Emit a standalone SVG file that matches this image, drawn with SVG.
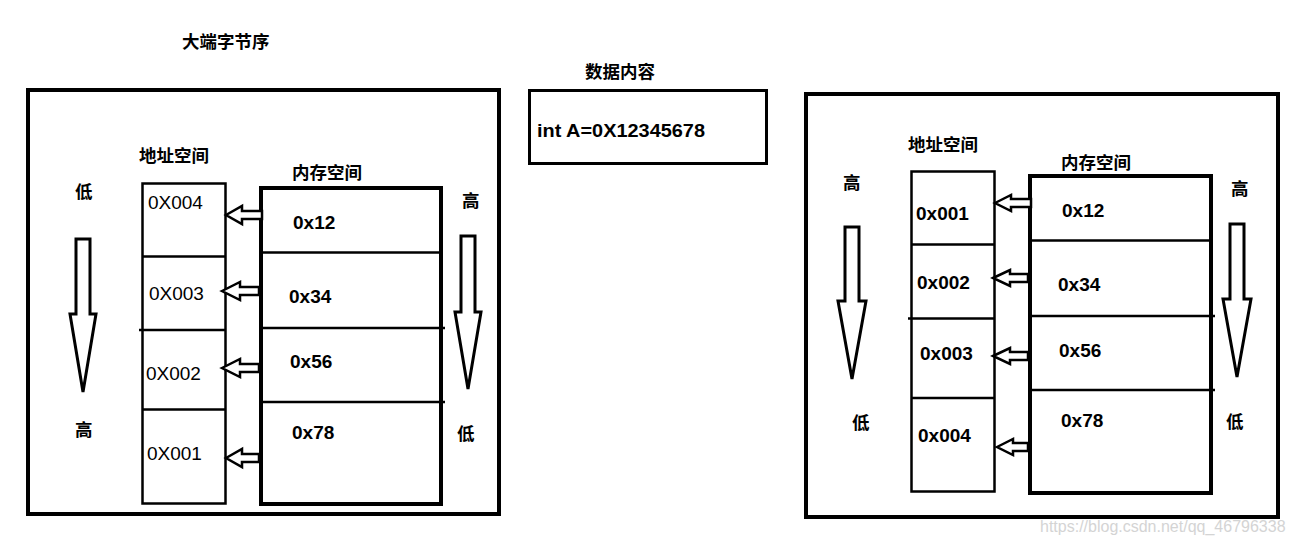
<svg xmlns="http://www.w3.org/2000/svg" width="1292" height="542" viewBox="0 0 1292 542">
<style>
.frame{fill:none;stroke:#000;stroke-width:4}
.box{fill:none;stroke:#000;stroke-width:2.5}
.mem{fill:none;stroke:#000;stroke-width:4}
.div{stroke:#000;stroke-width:2.5}
.harrow{fill:#fff;stroke:#000;stroke-width:2.5;stroke-linejoin:miter}
.big{fill:#fff;stroke:#000;stroke-width:3}
.cjk{font-family:"Noto Sans CJK SC","Noto Sans",sans-serif;font-weight:bold;font-size:17.5px;fill:#000}
.hexb{font-family:"Liberation Sans",Arial,sans-serif;font-weight:bold;font-size:19px;fill:#000}
.hexr{font-family:"Liberation Sans",Arial,sans-serif;font-size:19px;fill:#000}
.wm{font-family:"Liberation Sans",Arial,sans-serif;font-size:16px;fill:#d4d4d4}
</style>
<rect width="1292" height="542" fill="#fff"/>

<!-- Titles -->
<g id="title-big-endian"><text class="cjk" x="182" y="48">大端字节序</text></g>
<g id="title-data"><text class="cjk" x="585" y="78">数据内容</text></g>

<!-- Middle data box -->
<g id="data-box">
<rect x="529.5" y="90.5" width="237" height="73" fill="none" stroke="#000" stroke-width="3"/>
<text class="hexb" x="537" y="137" textLength="168" lengthAdjust="spacingAndGlyphs">int A=0X12345678</text>
</g>

<!-- Left panel -->
<g id="left-panel">
<rect class="frame" x="28" y="90" width="471" height="424"/>
<text class="cjk" x="139" y="162">地址空间</text>
<text class="cjk" x="292" y="179">内存空间</text>
<text class="cjk" x="75" y="198">低</text>
<text class="cjk" x="75" y="436">高</text>
<text class="cjk" x="462" y="207">高</text>
<text class="cjk" x="457" y="440">低</text>
</g>
<g id="left-order-arrow"><polygon class="big" points="76,239 90,239 90,314 96,314 83,392 70,314 76,314"/></g>
<g id="right-order-arrow-l"><polygon class="big" points="461,236 475,236 475,312 481,312 468,389 455,312 461,312"/></g>

<g id="left-address">
<rect class="box" x="142.5" y="183.5" width="83" height="320"/>
<line class="div" x1="142" y1="256.5" x2="226" y2="256.5"/>
<line class="div" x1="139" y1="330" x2="226" y2="330"/>
<line class="div" x1="142" y1="409.5" x2="226" y2="409.5"/>
<text class="hexr" x="148" y="209">0X004</text>
<text class="hexr" x="149" y="300">0X003</text>
<text class="hexr" x="146" y="380">0X002</text>
<text class="hexr" x="147" y="460">0X001</text>
</g>

<g id="left-memory">
<rect class="mem" x="261" y="188" width="180" height="316"/>
<line class="div" x1="261" y1="252.5" x2="441" y2="252.5"/>
<line class="div" x1="261" y1="328" x2="445" y2="328"/>
<line class="div" x1="261" y1="402" x2="445" y2="402"/>
<text class="hexb" x="293" y="229">0x12</text>
<text class="hexb" x="289" y="303">0x34</text>
<text class="hexb" x="290" y="368">0x56</text>
<text class="hexb" x="292" y="439">0x78</text>
</g>

<!-- Right panel -->
<g id="right-panel">
<rect class="frame" x="806" y="94" width="472" height="423"/>
<text class="cjk" x="908" y="151">地址空间</text>
<text class="cjk" x="1061" y="169">内存空间</text>
<text class="cjk" x="843" y="189">高</text>
<text class="cjk" x="852" y="429">低</text>
<text class="cjk" x="1231" y="195">高</text>
<text class="cjk" x="1226" y="428">低</text>
</g>
<g id="right-order-arrow-1"><polygon class="big" points="845,227 859,227 859,301 866,301 852,379 838,301 845,301"/></g>
<g id="right-order-arrow-2"><polygon class="big" points="1230,224 1244,224 1244,299 1251,299 1237,377 1223,299 1230,299"/></g>

<g id="right-address">
<rect class="box" x="911.5" y="171.5" width="83" height="320"/>
<line class="div" x1="911" y1="244.5" x2="995" y2="244.5"/>
<line class="div" x1="908" y1="318.5" x2="995" y2="318.5"/>
<line class="div" x1="911" y1="398" x2="995" y2="398"/>
<text class="hexb" x="916" y="220">0x001</text>
<text class="hexb" x="917" y="289">0x002</text>
<text class="hexb" x="920" y="360">0x003</text>
<text class="hexb" x="918" y="442">0x004</text>
</g>

<g id="right-memory">
<rect class="mem" x="1030" y="176" width="181" height="317"/>
<line class="div" x1="1030" y1="240.5" x2="1211" y2="240.5"/>
<line class="div" x1="1030" y1="316" x2="1215" y2="316"/>
<line class="div" x1="1030" y1="390" x2="1215" y2="390"/>
<text class="hexb" x="1062" y="217">0x12</text>
<text class="hexb" x="1058" y="291">0x34</text>
<text class="hexb" x="1059" y="357">0x56</text>
<text class="hexb" x="1061" y="427">0x78</text>
</g>

<!-- Connectors -->
<g id="connectors">
<polygon class="harrow" points="226,215 242,206 242,211 262,211 262,219 242,219 242,224"/>
<polygon class="harrow" points="222,291 240,282 240,287 259,287 259,295 240,295 240,300"/>
<polygon class="harrow" points="222,368 240,359 240,364 259,364 259,372 240,372 240,377"/>
<polygon class="harrow" points="226,458 242,449 242,454 259,454 259,462 242,462 242,467"/>
<polygon class="harrow" points="995,203 1011,195 1011,199 1031,199 1031,207 1011,207 1011,211"/>
<polygon class="harrow" points="993,278 1010,270 1010,274 1028,274 1028,282 1010,282 1010,286"/>
<polygon class="harrow" points="993,356 1010,348 1010,352 1028,352 1028,360 1010,360 1010,364"/>
<polygon class="harrow" points="997,447 1013,439 1013,443 1028,443 1028,451 1013,451 1013,455"/>
</g>

<g id="watermark"><text class="wm" x="1040" y="532">https://blog.csdn.net/qq_46796338</text></g>
</svg>
